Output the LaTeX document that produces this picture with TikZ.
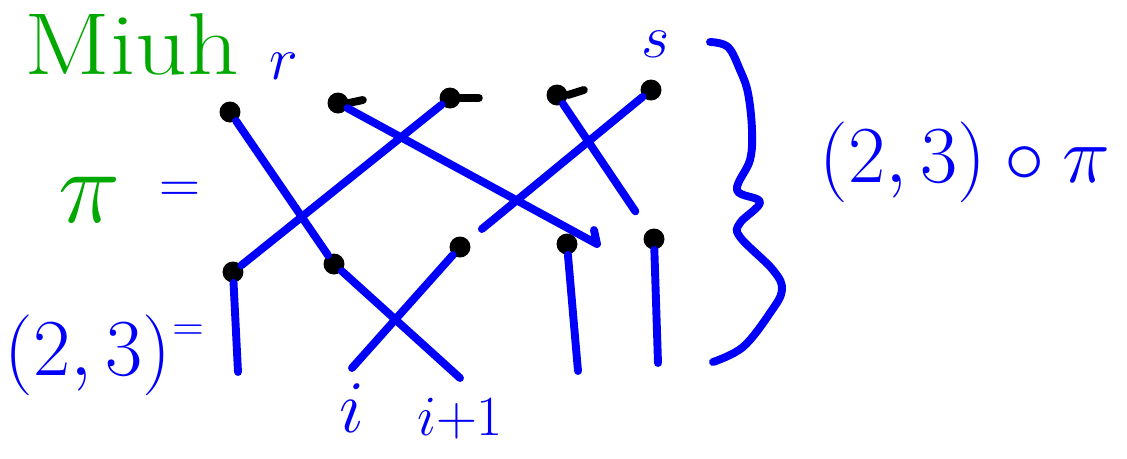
\documentclass[tikz,border=0pt]{standalone}
\usepackage{amsmath}
\usepackage{graphicx}
\usepackage{tikz}
\usetikzlibrary{arrows.meta,positioning}
\definecolor{penblue}{RGB}{0,0,250}
\definecolor{pengreen}{RGB}{0,168,0}
\newcommand{\penbig}[2][1.85]{\scalebox{#1}{#2}}
\tikzset{
  dot/.style    ={circle, fill=black, inner sep=0pt, minimum size=0.42cm},
  tail/.style   ={draw=black, line width=4.5pt, line cap=round},
  strand/.style ={draw=penblue, line width=4.5pt, line cap=round, line join=round},
  bhand/.style  ={text=penblue, inner sep=0pt, font=\Huge},
  ghand/.style  ={text=pengreen, inner sep=0pt, font=\Huge}
}

\begin{document}
\begin{tikzpicture}[x=0.02cm, y=-0.02cm]
\useasboundingbox (0,0) rectangle (1127,458);
% headings
\node[ghand, font=\fontsize{50}{54}\selectfont] (head) at (132,44) {\scalebox{1.15}[1]{Miuh}};
\node[bhand] (r) at (284,66) {\penbig[1.4]{$r$}};
\node[bhand] (s) at (656,44) {\penbig[1.4]{$s$}};
\node[ghand] (pi) at (90,200) {\penbig[2.4]{$\pi$}};
\node[bhand] (pieq) at (180,192) {\penbig[1.3]{$=$}};
\node[bhand] (tr) at (88,355) {\penbig{$(2,3)$}};
\node[bhand] (treq) at (188,333) {$=$};

% top row
\node[dot] (t1) at (230,112) {};
\node[dot] (t2) at (338,103) {};
\node[dot] (t3) at (450,98) {};
\node[dot] (t4) at (557,95) {};
\node[dot] (t5) at (651,90) {};
\draw[tail] (t2.east) -- +(14,-3);
\draw[tail] (t3.east) -- +(18,0);
\draw[tail] (t4.east) -- +(16,-5);

% middle row
\node[dot] (m1) at (233,272) {};
\node[dot] (m2) at (334,264) {};
\node[dot] (m3) at (460,247) {};
\node[dot] (m4) at (567,244) {};
\node[dot] (m5) at (654,239) {};

% pi
\draw[strand] (t1) -- (m2);
\draw[strand] (t3) -- (m1);
\draw[strand] (t2) -- ([xshift=0.6cm]m4.center) -- +(-3,-14);
\draw[strand, shorten >=0.45cm] (t4) -- (m5);
\draw[strand, shorten >=0.35cm] (t5) -- (m3);

% (2,3)
\coordinate (b1) at (238,372);
\coordinate (b2) at (460,378);
\coordinate (b3) at (352,368);
\coordinate (b4) at (578,371);
\coordinate (b5) at (658,363);
\draw[strand] (m1) -- (b1);
\draw[strand] (m2) -- (b2);
\draw[strand] (m3) -- (b3);
\draw[strand] (m4) -- (b4);
\draw[strand] (m5) -- (b5);
\node[bhand, below=0.3cm of b3] (li) {\penbig[1.7]{$i$}};
\node[bhand, below=0.4cm of b2] (li1) {\penbig[1.3]{$i{+}1$}};

% brace
\draw[strand] plot[smooth, tension=0.6] coordinates {(710,42) (728,47) (740,70) (748,93)
  (752,130) (750,160) (737,190) (760,202) (740,223) (740,237) (773,270) (782,290)
  (770,313) (743,347) (713,362)};
\node[bhand] (comp) at (965,162) {\penbig{$(2,3)\circ\pi$}};
\end{tikzpicture}
\end{document}
